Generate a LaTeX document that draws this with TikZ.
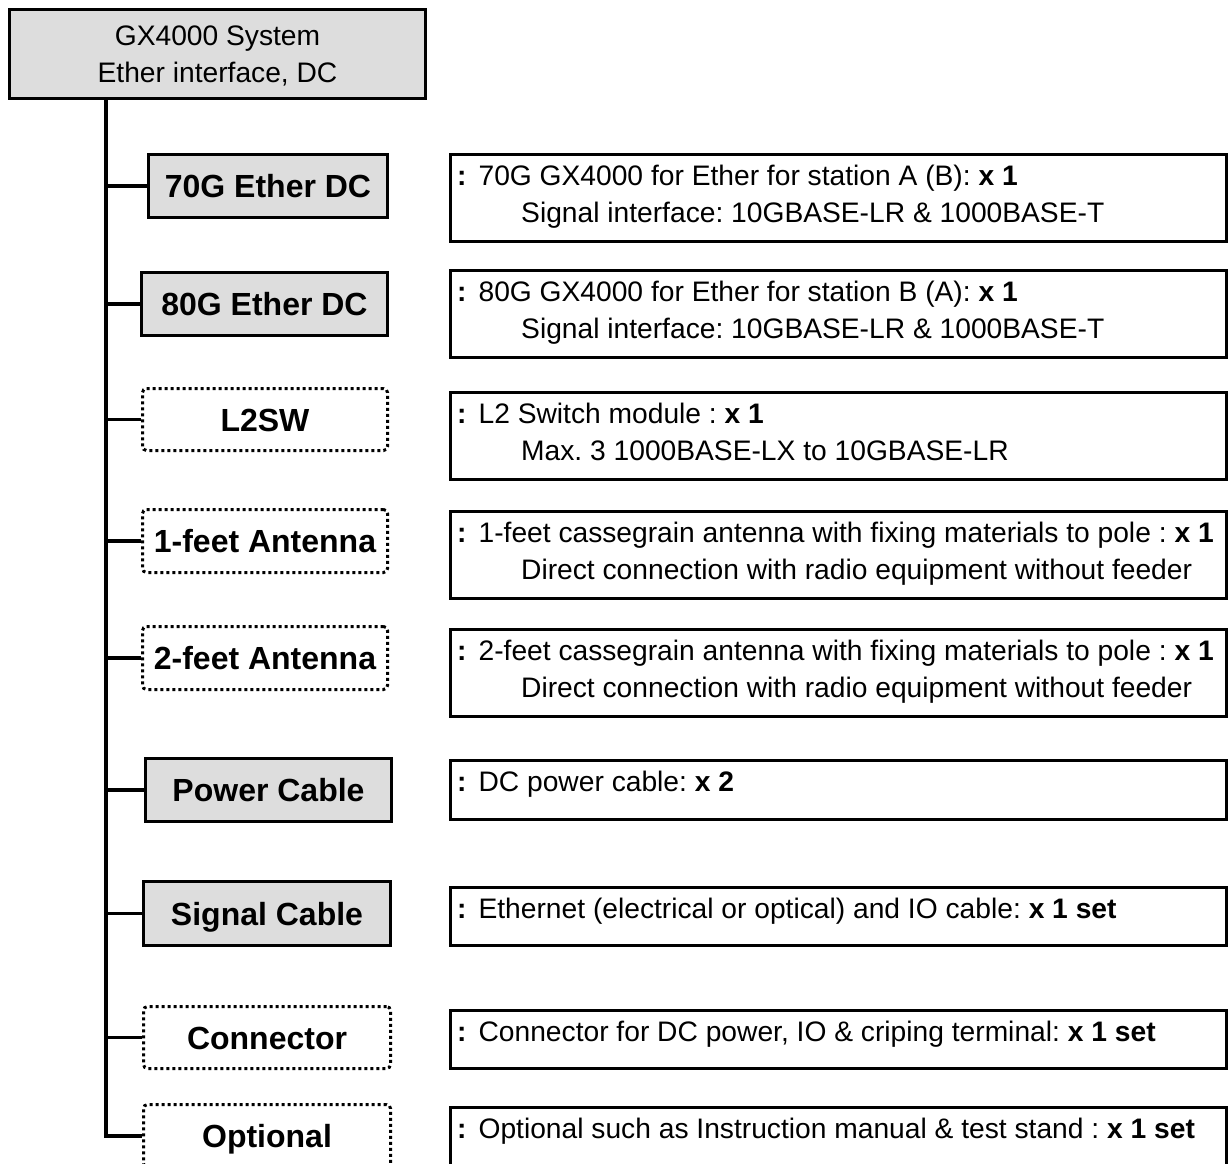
\documentclass[tikz,border=0pt]{standalone}
\usepackage{fontspec}
\setmainfont{Liberation Sans}
\definecolor{boxgray}{RGB}{221,221,221}
\newcommand\myLabFont{\fontsize{32}{38}\selectfont\bfseries}
\newcommand\myTxtFont{\fontsize{28.2}{34}\selectfont\frenchspacing}
\newcommand\myColon{\textbf{:}\hspace{12pt}}
\begin{document}
\frenchspacing
\begin{tikzpicture}[x=1pt,y=-1pt,
 sysbox/.style={draw, line width=3.2pt, fill=boxgray, inner sep=0pt},
 lab/.style={draw, line width=3.2pt, fill=boxgray, inner sep=0pt, font=\myLabFont, text height=23pt, text depth=0pt},
 dlab/.style={draw, line width=3pt, dash pattern=on 3pt off 3pt, rounded corners=4pt, inner sep=0pt, font=\myLabFont, text height=23pt, text depth=0pt},
 desc/.style={draw, line width=3pt, inner sep=0pt, minimum width=776pt},
 txt/.style={anchor=base west, inner sep=0pt, font=\myTxtFont},
 ctxt/.style={anchor=base, inner sep=0pt, font=\myTxtFont},
 conn/.style={line width=3.5pt},
 trunkline/.style={line width=4pt, line join=miter}]
\useasboundingbox (0,0) rectangle (1229,1164);
\clip (0,0) rectangle (1229,1164);

% top system box
\node[sysbox, minimum width=416pt, minimum height=89pt] (sys) at (217.5,54) {};
\node[ctxt] (sysA) at (217.5,46) {GX4000 System};
\node[ctxt] (sysB) at (217.5,83) {Ether interface, DC};

% item boxes
\node[lab,  minimum width=239pt, minimum height=63pt] (b1) at (268,186) {70G Ether DC};
\node[lab,  minimum width=246pt, minimum height=63pt] (b2) at (264.5,304) {80G Ether DC};
\node[dlab, minimum width=245pt, minimum height=62pt] (b3) at (265,419.5) {L2SW};
\node[dlab, minimum width=245pt, minimum height=63pt] (b4) at (265,541) {1-feet Antenna};
\node[dlab, minimum width=245pt, minimum height=63pt] (b5) at (265,658) {2-feet Antenna};
\node[lab,  minimum width=246pt, minimum height=63pt] (b6) at (268.5,790) {Power Cable};
\node[lab,  minimum width=247pt, minimum height=64pt] (b7) at (267,913.5) {Signal Cable};
\node[dlab, minimum width=247pt, minimum height=62pt] (b8) at (267,1037.5) {Connector};
\node[dlab, minimum width=247pt, minimum height=63pt] (b9) at (267,1136) {Optional};

% tree connectors
\coordinate (tk) at (106,0);
\draw[trunkline] (tk |- sys.south) |- (b9.west);
\foreach \b in {b1,b2,b3,b4,b5,b6,b7,b8}
  \draw[conn] (\b.west) -- (\b.west -| tk);

% description boxes
\node[desc, minimum height=87pt] (d1) at (838.5,198) {};
\node[desc, minimum height=87pt] (d2) at (838.5,314) {};
\node[desc, minimum height=87pt] (d3) at (838.5,436) {};
\node[desc, minimum height=87pt] (d4) at (838.5,555) {};
\node[desc, minimum height=87pt] (d5) at (838.5,673) {};
\node[desc, minimum height=59pt] (d6) at (838.5,790) {};
\node[desc, minimum height=58pt] (d7) at (838.5,916.5) {};
\node[desc, minimum height=58pt] (d8) at (838.5,1039.5) {};
\node[desc, minimum height=87pt] (d9) at (838.5,1151) {};

% description texts
\node[txt] (t1a) at (457,185) {\myColon 70G GX4000 for Ether for station A (B): \textbf{x 1}};
\node[txt] (t1b) at (521,222) {Signal interface: 10GBASE-LR \& 1000BASE-T};
\node[txt] (t2a) at (457,301) {\myColon 80G GX4000 for Ether for station B (A): \textbf{x 1}};
\node[txt] (t2b) at (521,338) {Signal interface: 10GBASE-LR \& 1000BASE-T};
\node[txt] (t3a) at (457,423) {\myColon L2 Switch module : \textbf{x 1}};
\node[txt] (t3b) at (521,460) {Max. 3 1000BASE-LX to 10GBASE-LR};
\node[txt] (t4a) at (457,542) {\myColon 1-feet cassegrain antenna with fixing materials to pole : \textbf{x 1}};
\node[txt] (t4b) at (521,579) {Direct connection with radio equipment without feeder};
\node[txt] (t5a) at (457,660) {\myColon 2-feet cassegrain antenna with fixing materials to pole : \textbf{x 1}};
\node[txt] (t5b) at (521,697) {Direct connection with radio equipment without feeder};
\node[txt] (t6) at (457,791) {\myColon DC power cable: \textbf{x 2}};
\node[txt] (t7) at (457,918) {\myColon Ethernet (electrical or optical) and IO cable: \textbf{x 1 set}};
\node[txt] (t8) at (457,1041) {\myColon Connector for DC power, IO \& criping terminal: \textbf{x 1 set}};
\node[txt] (t9) at (457,1138) {\myColon Optional such as Instruction manual \& test stand : \textbf{x 1 set}};
\end{tikzpicture}
\end{document}
